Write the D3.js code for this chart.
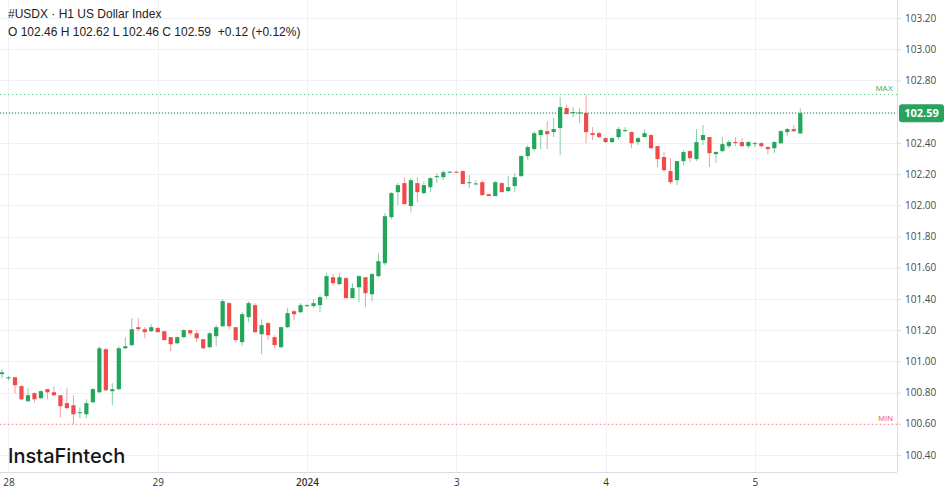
<!DOCTYPE html>
<html><head><meta charset="utf-8">
<script src="https://cdn.jsdelivr.net/npm/d3@7"></script>
<style>
html,body{margin:0;padding:0;background:#fff;}
svg{display:block;font-family:"Liberation Sans",Arial,sans-serif;}
</style></head>
<body><svg id="c" width="949" height="494"></svg>
<script>
// Hourly candles (H1), index 0 .. 123
const opens  = [100.918,100.892,100.898,100.841,100.745,100.796,100.764,100.822,100.802,100.783,100.732,100.719,100.668,100.661,100.738,100.802,101.078,100.809,100.822,101.084,101.104,101.219,101.206,101.193,101.213,101.193,101.155,101.116,101.155,101.200,101.180,101.142,101.091,101.161,101.225,101.373,101.219,101.123,101.283,101.360,101.174,101.245,101.155,101.091,101.219,101.321,101.315,101.354,101.354,101.360,101.418,101.539,101.495,101.533,101.405,101.475,101.539,101.430,101.546,101.629,101.924,102.084,102.142,101.995,102.142,102.078,102.116,102.180,102.180,102.210,102.215,102.219,102.142,102.136,102.148,102.071,102.059,102.142,102.091,102.123,102.187,102.315,102.360,102.450,102.475,102.469,102.495,102.623,102.590,102.588,102.591,102.462,102.462,102.430,102.405,102.437,102.475,102.469,102.405,102.437,102.450,102.379,102.309,102.219,102.161,102.283,102.347,102.296,102.418,102.437,102.328,102.347,102.379,102.405,102.405,102.379,102.392,102.398,102.373,102.366,102.398,102.469,102.488,102.46];
const highs  = [100.950,100.905,100.898,100.847,100.828,100.802,100.815,100.822,100.841,100.783,100.828,100.783,100.706,100.757,100.828,101.097,101.084,100.860,101.097,101.155,101.277,101.277,101.219,101.238,101.219,101.193,101.155,101.161,101.206,101.200,101.200,101.142,101.187,101.232,101.398,101.379,101.219,101.315,101.386,101.373,101.270,101.251,101.168,101.225,101.341,101.328,101.373,101.366,101.398,101.424,101.565,101.559,101.565,101.539,101.501,101.552,101.539,101.565,101.693,101.950,102.084,102.142,102.180,102.174,102.180,102.155,102.180,102.206,102.225,102.219,102.219,102.225,102.193,102.161,102.161,102.071,102.155,102.148,102.187,102.206,102.321,102.386,102.475,102.488,102.539,102.559,102.693,102.642,102.629,102.623,102.710,102.501,102.469,102.437,102.437,102.501,102.501,102.475,102.437,102.488,102.456,102.379,102.341,102.302,102.283,102.354,102.354,102.488,102.514,102.437,102.347,102.437,102.418,102.437,102.430,102.411,102.405,102.405,102.379,102.411,102.482,102.495,102.514,102.62];
const lows   = [100.892,100.879,100.796,100.752,100.738,100.738,100.757,100.757,100.777,100.642,100.700,100.597,100.636,100.636,100.732,100.796,100.809,100.719,100.815,101.078,101.097,101.193,101.148,101.187,101.187,101.136,101.065,101.110,101.148,101.168,101.123,101.078,101.084,101.097,101.219,101.206,101.123,101.097,101.251,101.180,101.046,101.136,101.084,101.084,101.213,101.264,101.309,101.348,101.341,101.315,101.398,101.488,101.488,101.405,101.405,101.379,101.347,101.386,101.539,101.616,101.911,102.001,102.007,101.956,102.020,102.071,102.084,102.142,102.161,102.206,102.206,102.136,102.110,102.129,102.065,102.059,102.059,102.084,102.084,102.084,102.180,102.289,102.347,102.360,102.360,102.437,102.321,102.584,102.565,102.527,102.398,102.418,102.430,102.398,102.398,102.418,102.469,102.366,102.386,102.437,102.360,102.245,102.212,102.136,102.129,102.257,102.277,102.283,102.386,102.245,102.270,102.341,102.366,102.379,102.373,102.366,102.373,102.366,102.328,102.334,102.392,102.443,102.469,102.46];
const closes = [100.930,100.898,100.847,100.757,100.783,100.757,100.809,100.802,100.783,100.713,100.700,100.661,100.674,100.732,100.822,101.084,100.815,100.822,101.084,101.097,101.206,101.206,101.187,101.219,101.187,101.136,101.110,101.155,101.200,101.180,101.148,101.084,101.180,101.219,101.386,101.225,101.136,101.302,101.373,101.187,101.232,101.168,101.104,101.219,101.309,101.302,101.360,101.360,101.373,101.411,101.546,101.501,101.539,101.405,101.469,101.546,101.437,101.559,101.642,101.930,102.078,102.129,102.007,102.161,102.084,102.129,102.174,102.187,102.212,102.215,102.210,102.136,102.148,102.140,102.065,102.059,102.148,102.084,102.116,102.180,102.315,102.373,102.462,102.482,102.456,102.488,102.629,102.584,102.597,102.595,102.469,102.450,102.437,102.405,102.430,102.488,102.482,102.398,102.430,102.462,102.366,102.296,102.225,102.148,102.283,102.341,102.302,102.405,102.450,102.334,102.341,102.392,102.405,102.398,102.379,102.405,102.398,102.379,102.360,102.405,102.475,102.488,102.475,102.59];
const dayTickIndex = [1, 24, 47, 70, 93, 116];
const dayTickLabels = ["28", "29", "2024", "3", "4", "5"];
const priceTicks = [100.40,100.60,100.80,101.00,101.20,101.40,101.60,101.80,102.00,102.20,102.40,102.60,102.80,103.00,103.20];
const titleText = "#USDX \u00b7 H1 US Dollar Index";
const ohlcText = "O 102.46 H 102.62 L 102.46 C 102.59  +0.12 (+0.12%)";

const GREEN = "#23a55a", RED = "#f04b4b";
const svg = d3.select("#c");
const W = 949, H = 494, plotR = 897, plotB = 472;

const x = d3.scaleLinear().domain([0, 123]).range([2, 800.3]);
const y = d3.scaleLinear().domain([100.40, 103.20]).range([455, 18]);
const lastV = closes[closes.length - 1];

// grid
const grid = svg.append("g");
grid.selectAll("line.h").data(priceTicks).join("line")
  .attr("x1", 0).attr("x2", plotR)
  .attr("y1", d => Math.round(y(d)) + 0.5).attr("y2", d => Math.round(y(d)) + 0.5)
  .attr("stroke", "#f0f1f3").attr("stroke-width", 1);
grid.selectAll("line.v").data(dayTickIndex).join("line")
  .attr("x1", d => Math.round(x(d)) + 0.5).attr("x2", d => Math.round(x(d)) + 0.5)
  .attr("y1", 0).attr("y2", plotB)
  .attr("stroke", "#f0f1f3").attr("stroke-width", 1);

// frame lines
svg.append("line").attr("x1", plotR + 0.5).attr("x2", plotR + 0.5).attr("y1", 0).attr("y2", plotB)
  .attr("stroke", "#d9dde3");
svg.append("line").attr("x1", 0).attr("x2", plotR).attr("y1", plotB + 0.5).attr("y2", plotB + 0.5)
  .attr("stroke", "#d9dde3");

// y axis (labels hidden where the current price tag covers them)
const yAxis = d3.axisRight(y).tickValues(priceTicks).tickFormat(d3.format(".2f")).tickSize(4).tickPadding(4);
const ya = svg.append("g").attr("transform", `translate(${plotR},0)`).call(yAxis);
ya.select(".domain").remove();
ya.selectAll(".tick line").attr("stroke", "#d9dde3");
ya.selectAll(".tick text").attr("fill", "#4a4a4a").style("font-size", "10px")
  .style("font-family", "'Open Sans','Liberation Sans',sans-serif")
  .style("display", d => Math.abs(y(d) - y(lastV)) < 12 ? "none" : null);

// x axis
const xAxis = d3.axisBottom(x).tickValues(dayTickIndex).tickFormat((d, i) => dayTickLabels[i]).tickSize(0).tickPadding(7);
const xa = svg.append("g").attr("transform", `translate(0,${plotB})`).call(xAxis);
xa.select(".domain").remove();
xa.selectAll(".tick text").attr("fill", "#333").style("font-size", "10px")
  .style("font-family", "'Open Sans','Liberation Sans',sans-serif")
  .style("font-weight", (d, i) => dayTickLabels[i] === "2024" ? "600" : "400");

// candles
const data = opens.map((o, i) => ({i, o, h: highs[i], l: lows[i], c: closes[i]}));
const cg = svg.append("g");
const bw = 4.2;
cg.selectAll("line.w").data(data).join("line")
  .attr("x1", d => x(d.i)).attr("x2", d => x(d.i))
  .attr("y1", d => y(d.h)).attr("y2", d => y(d.l))
  .attr("stroke", d => d.c >= d.o ? GREEN : RED).attr("stroke-opacity", 0.55).attr("stroke-width", 1);
cg.selectAll("rect").data(data).join("rect")
  .attr("x", d => x(d.i) - bw / 2).attr("width", bw)
  .attr("y", d => y(Math.max(d.o, d.c)))
  .attr("height", d => Math.max(1, Math.abs(y(d.o) - y(d.c))))
  .attr("fill", d => d.c >= d.o ? GREEN : RED);

// max / min / last lines
const maxV = d3.max(highs), minV = d3.min(lows);
svg.append("line").attr("x1", 0).attr("x2", plotR).attr("y1", y(maxV)).attr("y2", y(maxV))
  .attr("stroke", "#5cc08a").attr("stroke-dasharray", "1,3").attr("stroke-width", 1);
svg.append("text").attr("x", 893).attr("y", y(maxV) - 3).attr("text-anchor", "end")
  .attr("fill", "#3fae6e").style("font-size", "8px").text("MAX");
svg.append("line").attr("x1", 0).attr("x2", plotR).attr("y1", y(minV)).attr("y2", y(minV))
  .attr("stroke", "#f07070").attr("stroke-dasharray", "1,3").attr("stroke-width", 1);
svg.append("text").attr("x", 893).attr("y", y(minV) - 3).attr("text-anchor", "end")
  .attr("fill", "#f06060").style("font-size", "8px").text("MIN");
svg.append("line").attr("x1", 0).attr("x2", plotR).attr("y1", y(lastV)).attr("y2", y(lastV))
  .attr("stroke", GREEN).attr("stroke-dasharray", "1,2").attr("stroke-width", 1.2);
svg.append("rect").attr("x", 899).attr("y", y(lastV) - 9).attr("width", 45).attr("height", 18).attr("rx", 3)
  .attr("fill", "#27a35e");
svg.append("text").attr("x", 921.5).attr("y", y(lastV) + 4).attr("text-anchor", "middle")
  .attr("fill", "#fff").style("font-size", "11px").style("font-weight", "bold")
  .style("font-family", "'Open Sans','Liberation Sans',sans-serif").text(lastV.toFixed(2));

// header
svg.append("text").attr("x", 8).attr("y", 18).attr("fill", "#222").style("font-size", "12px").text(titleText);
svg.append("text").attr("x", 8).attr("y", 36).attr("fill", "#222").style("font-size", "12px").style("white-space", "pre")
  .attr("xml:space", "preserve").text(ohlcText);

// watermark
svg.append("text").attr("x", 8).attr("y", 463).attr("fill", "#151515")
  .style("font-family", "Inter, 'Noto Sans', sans-serif").style("font-size", "20px").style("font-weight", "500")
  .text("InstaFintech");
</script></body></html>
